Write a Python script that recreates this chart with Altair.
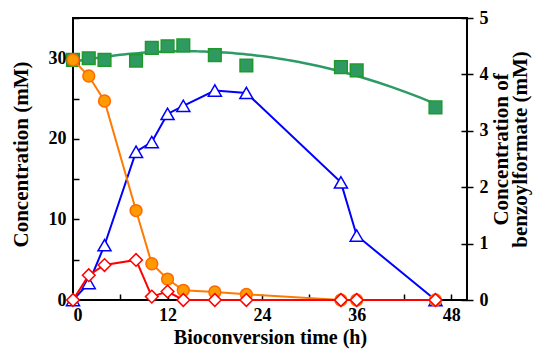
import altair as alt
import pandas as pd

# Values
time_h = [0, 2, 4, 8, 10, 12, 14, 18, 22, 34, 36, 46]
green_mM = [29.8, 30.0, 29.8, 29.7, 31.3, 31.5, 31.6, 30.4, 29.1, 28.9, 28.5, 23.9]
orange_mM = [29.8, 27.8, 24.7, 11.1, 4.5, 2.6, 1.2, 1.0, 0.7, 0.0, 0.0, 0.0]
blue_mM = [0.0, 2.1, 6.8, 18.4, 19.6, 23.1, 24.1, 26.0, 25.7, 14.6, 8.0, 0.0]
benzoylformate_mM = [0.0, 0.44, 0.62, 0.71, 0.06, 0.15, 0.0, 0.0, 0.0, 0.0, 0.0, 0.0]

x_ticks = [0, 6, 12, 18, 24, 30, 36, 42, 48]
y_ticks = [0, 5, 10, 15, 20, 25, 30, 35]
y2_ticks = [0, 1, 2, 3, 4, 5]

df = pd.DataFrame({
    "time": time_h,
    "green": green_mM,
    "orange": orange_mM,
    "blue": blue_mM,
    "bf": benzoylformate_mM,
})

FONT = "Liberation Serif"

xscale = alt.Scale(domain=[0, 50], nice=False, zero=False)
yscale = alt.Scale(domain=[0, 35], nice=False)
y2scale = alt.Scale(domain=[0, 5], nice=False)

xaxis = alt.Axis(
    values=x_ticks,
    labelExpr="datum.value % 12 == 0 ? datum.label : ''",
    title="Bioconversion time (h)", titleFontSize=20,
    domain=False, offset=-6, tickSize=6, tickWidth=1.5,
    labelPadding=6, titlePadding=3, grid=False,
)
yaxis = alt.Axis(
    values=y_ticks,
    labelExpr="datum.value % 10 == 0 && datum.value < 35 ? datum.label : ''",
    title="Concentration (mM)",
    domain=False, offset=-6, tickSize=6, tickWidth=1.5,
    labelPadding=7, titlePadding=17, titleY=136, grid=False,
)
y2axis = alt.Axis(
    orient="right",
    values=y2_ticks,
    title=["Concentration of", "benzoylformate (mM)"],
    titleAngle=270, titleY=131, titleLineHeight=19,
    domain=False, offset=-6, tickSize=12, tickWidth=1.5,
    labelPadding=6, titlePadding=4, grid=False,
)

base = alt.Chart(df).encode(x=alt.X("time:Q", scale=xscale, axis=xaxis))

green_curve = base.transform_regression(
    "time", "green", method="poly", order=2, extent=[0, 46]
).mark_line(color="#2e9a66", strokeWidth=2.5).encode(
    y=alt.Y("green:Q", scale=yscale, axis=yaxis)
)
green_pts = base.mark_square(
    size=160, fill="#2f9962", stroke="#1f9a2a", strokeWidth=1.5, opacity=1
).encode(y=alt.Y("green:Q", scale=yscale, axis=yaxis))

blue_line = base.mark_line(color="#0000ff", strokeWidth=2).encode(
    y=alt.Y("blue:Q", scale=yscale, axis=yaxis)
)
blue_pts = base.mark_point(
    shape="triangle-up", size=170, filled=True, fill="white",
    stroke="#0000ff", strokeWidth=1.5, opacity=1
).encode(y=alt.Y("blue:Q", scale=yscale, axis=yaxis))

orange_line = base.mark_line(color="#ff7a00", strokeWidth=2).encode(
    y=alt.Y("orange:Q", scale=yscale, axis=yaxis)
)
orange_pts = base.mark_point(
    shape="circle", size=140, filled=True, fill="#ff9a00",
    stroke="#ff6a00", strokeWidth=1.5, opacity=1
).encode(y=alt.Y("orange:Q", scale=yscale, axis=yaxis))

red_line = base.mark_line(color="#ff0000", strokeWidth=2).encode(
    y=alt.Y("bf:Q", scale=y2scale, axis=y2axis)
)
red_pts = base.mark_point(
    shape="diamond", size=160, filled=True, fill="white",
    stroke="#ff0000", strokeWidth=1.5, opacity=1
).encode(y=alt.Y("bf:Q", scale=y2scale, axis=y2axis))

left = alt.layer(green_curve, green_pts, blue_line, blue_pts, orange_line, orange_pts)
right = alt.layer(red_line, red_pts)

chart = alt.layer(left, right).resolve_scale(y="independent").properties(
    width=394, height=282,
    padding={"left": 65, "top": 10, "right": 67, "bottom": 49},
    autosize=alt.AutoSizeParams(type="none"),
).configure_view(
    stroke="black", strokeWidth=2
).configure_axis(
    labelFont=FONT, labelFontSize=18, labelFontWeight="bold", labelColor="black",
    titleFont=FONT, titleFontSize=21, titleFontWeight="bold", titleColor="black",
    tickColor="black",
)

chart.save("out.html", embed_options={"renderer": "svg", "actions": False})
